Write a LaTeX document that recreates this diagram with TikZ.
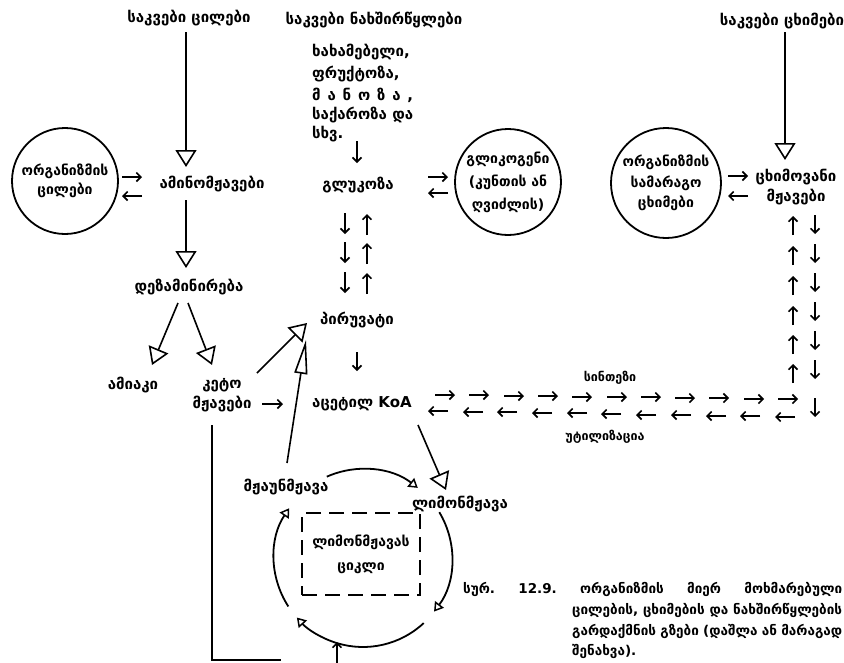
\documentclass[tikz,border=0pt]{standalone}
\usepackage{fontspec}
\setmainfont{DejaVu Sans}
\usetikzlibrary{arrows.meta,calc}

\newcommand\lbfont{\fontsize{15}{20.5}\selectfont\bfseries}
\newcommand\rgfont{\fontsize{14}{19}\selectfont\bfseries}
\newcommand\smfont{\fontsize{12.5}{14}\selectfont\bfseries}
\newcommand\captfont{\fontsize{13.5}{21}\selectfont\bfseries}

\begin{document}
\begin{tikzpicture}[x=1pt,y=-1pt,
  lbl/.style={font=\lbfont,inner sep=0pt,align=center},
  sml/.style={font=\smfont,inner sep=0pt},
  captxt/.style={font=\captfont,inner sep=0pt,anchor=west},
  ring/.style={draw,circle,line width=1.8pt,inner sep=0pt,font=\rgfont,align=center},
  feed/.style={line width=1.6pt,-{Triangle[open,length=17pt,width=21pt,line width=1.6pt]}},
  longfeed/.style={line width=1.6pt,-{Triangle[open,length=34pt,width=13pt,line width=1.6pt]}},
  tinyarr/.style={line width=1.8pt,-{Straight Barb[length=4.5pt,width=9pt,line width=1.6pt]}},
  cyc/.style={line width=1.8pt,-{Triangle[open,length=9pt,width=11pt,line width=1.5pt]}},
  wire/.style={line width=1.6pt},
  boxd/.style={draw,line width=1.6pt,dash pattern=on 15pt off 8pt},
]
\useasboundingbox (0,0) rectangle (844,662);

% ---- food sources ----
\node[lbl] (fp) at (189,18) {საკვები ცილები};
\node[lbl] (fc) at (374,20) {საკვები ნახშირწყლები};
\node[lbl] (ff) at (782,21) {საკვები ცხიმები};

% ---- protein branch ----
\node[ring,minimum size=106pt] (bp) at (65,181) {ორგანიზმის\\ცილები};
\node[lbl] (aa) at (212,184) {ამინომჟავები};
\node[lbl] (dz) at (189,287) {დეზამინირება};
\node[lbl] (am) at (133,385) {ამიაკი};
\node[lbl] (kt) at (222,395) {კეტო\\მჟავები};

% ---- carbohydrate branch ----
\node[lbl,anchor=west] (sg1) at (312,52) {\makebox[101pt][s]{ხახამებელი,}};
\node[lbl,anchor=west] (sg2) at (312,74) {\makebox[101pt][s]{ფრუქტოზა,}};
\node[lbl,anchor=west] (sg3) at (312,95) {\makebox[101pt][s]{მ ა ნ ო ზ ა ,}};
\node[lbl,anchor=west] (sg4) at (312,115) {\makebox[101pt][s]{საქაროზა და}};
\node[lbl,anchor=west] (sg5) at (312,134) {სხვ.};
\node[lbl] (gl) at (358,185) {გლუკოზა};
\node[ring,minimum size=106pt,font=\fontsize{14}{23}\selectfont\bfseries] (gg) at (508,182) {გლიკოგენი\\(კუნთის ან\\ღვიძლის)};
\node[lbl] (pv) at (357,320) {პირუვატი};
\node[lbl] (ac) at (362,404) {აცეტილ KoA};

% ---- fat branch ----
\node[ring,minimum size=110pt,font=\fontsize{14}{20.5}\selectfont\bfseries] (sf) at (666,183) {ორგანიზმის\\სამარაგო\\ცხიმები};
\node[lbl] (fa) at (796,187) {ცხიმოვანი\\მჟავები};
\node[sml] (sn) at (610,378) {სინთეზი};
\node[sml] (ut) at (605,437) {უტილიზაცია};

% ---- citric acid cycle ----
\coordinate (cc) at (363,558);
\node[lbl] (oa) at (286,487) {მჟაუნმჟავა};
\node[lbl] (ci) at (460,504) {ლიმონმჟავა};
\node[boxd,minimum width=118pt,minimum height=82pt,font=\fontsize{14}{24}\selectfont\bfseries,align=center,inner sep=0pt] (lc) at (361,554) {ლიმონმჟავას\\ციკლი};

\draw[cyc] ($(cc)+(-114:89)$) arc[start angle=-114,end angle=-52,radius=89];
\draw[cyc] ($(cc)+(-31:89)$) arc[start angle=-31,end angle=37,radius=89];
\draw[cyc] ($(cc)+(47:89)$) arc[start angle=47,end angle=138,radius=89];
\draw[cyc] ($(cc)+(147:89)$) arc[start angle=147,end angle=214,radius=89];

% ---- main conversion arrows ----
\coordinate (fp-o) at (186,32);   \coordinate (aa-i) at (186,167);
\coordinate (aa-o) at (186,200);  \coordinate (dz-i) at (186,268);
\coordinate (dz-l) at (178,303);  \coordinate (am-i) at (152,365);
\coordinate (dz-r) at (188,303);  \coordinate (kt-i) at (212,365);
\coordinate (kt-o) at (257,373);  \coordinate (pv-a) at (307,323);
\coordinate (oa-o) at (287,463);  \coordinate (pv-b) at (306,340);
\coordinate (ac-o) at (418,425);  \coordinate (ci-i) at (446,490);
\coordinate (ff-o) at (785,32);   \coordinate (fa-i) at (785,160);
\draw[feed] (fp-o) -- (aa-i);
\draw[feed] (aa-o) -- (dz-i);
\draw[feed] (dz-l) -- (am-i);
\draw[feed] (dz-r) -- (kt-i);
\draw[feed] (kt-o) -- (pv-a);
\draw[longfeed] (oa-o) -- (pv-b);
\draw[feed] (ac-o) -- (ci-i);
\draw[feed] (ff-o) -- (fa-i);

% keto acids down and round to the cycle
\coordinate (kt-d) at (212,425);
\coordinate (kt-c) at (212,660);
\coordinate (kt-e) at (281,660);
\draw[wire] (kt-d) -- (kt-c) -- (kt-e);
\coordinate (in-s) at (337,664);
\coordinate (in-e) at (337,642);
\draw[tinyarr] (in-s) -- (in-e);

% ---- short exchange arrows ----
\draw[tinyarr] (122,177) coordinate (bp-a) -- (142,177) coordinate (aa-a);
\draw[tinyarr] (142,196) coordinate (aa-b) -- (122,196) coordinate (bp-b);
\draw[tinyarr] (428,177) coordinate (gl-a) -- (448,177) coordinate (gg-a);
\draw[tinyarr] (448,193) coordinate (gg-b) -- (428,193) coordinate (gl-b);
\draw[tinyarr] (728,176) coordinate (sf-a) -- (748,176) coordinate (fa-a);
\draw[tinyarr] (748,196) coordinate (fa-b) -- (728,196) coordinate (sf-b);
\draw[tinyarr] (357,141) coordinate (sg-d) -- (357,163) coordinate (gl-u);
\draw[tinyarr] (357,352) coordinate (pv-d) -- (357,371) coordinate (ac-u);
\draw[tinyarr] (262,404) coordinate (kt-r) -- (283,404) coordinate (ac-l);

% glucose <-> pyruvate
\foreach \y in {213,242,272}{
  \draw[tinyarr] (345,\y) coordinate (gd\y) -- ++(0,21);
  \draw[tinyarr] (367,\y+22) coordinate (gu\y) -- ++(0,-21);
}

% fatty acids <-> acetyl CoA
\foreach \y in {235,265,295,325,354,383}{
  \draw[tinyarr] (793,\y) coordinate (fu\y) -- ++(0,-19);
}
\foreach \y in {215,244,273,302,331,360,398}{
  \draw[tinyarr] (815,\y) coordinate (fd\y) -- ++(0,19);
}
\foreach \i in {0,...,10}{
  \coordinate (syn\i) at ({round(435+34.3*\i)},{round(395+0.4*\i)});
  \draw[tinyarr] (syn\i) -- ++(20,0);
  \coordinate (utl\i) at ({round(448+34.7*\i)},{round(411+0.6*\i)});
  \draw[tinyarr] (utl\i) -- ++(-20,0);
}

% ---- caption ----
\node[captxt] (cp1) at (463,589) {\makebox[379pt][s]{სურ.\ 12.9.\ ორგანიზმის მიერ მოხმარებული}};
\node[captxt] (cp2) at (572,610) {\makebox[270pt][s]{ცილების, ცხიმების და ნახშირწყლების}};
\node[captxt] (cp3) at (572,631) {\makebox[270pt][s]{გარდაქმნის გზები (დაშლა ან მარაგად}};
\node[captxt] (cp4) at (572,651) {შენახვა).};
\end{tikzpicture}
\end{document}
